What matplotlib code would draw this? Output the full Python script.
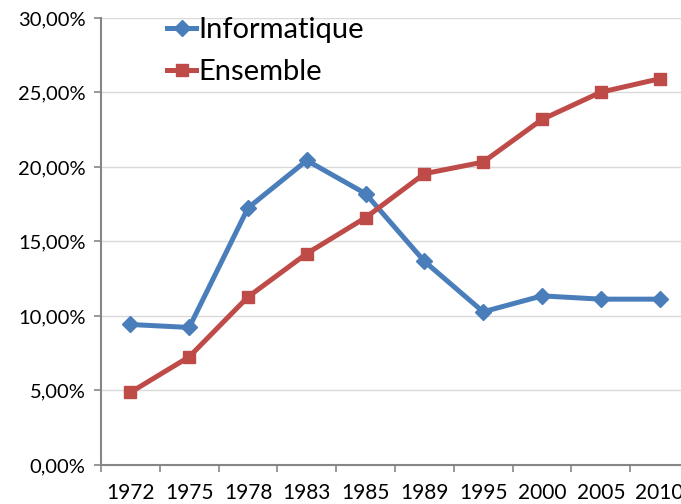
import matplotlib
matplotlib.use("Agg")
import matplotlib.pyplot as plt
from matplotlib.ticker import FuncFormatter, FixedLocator

plt.rcParams['font.family'] = ['Lato', 'DejaVu Sans']

# Data (share in %)
years = ['1972', '1975', '1978', '1983', '1985', '1989', '1995', '2000', '2005', '2010']
informatique = [9.43, 9.23, 17.25, 20.44, 18.21, 13.67, 10.28, 11.35, 11.13, 11.13]
ensemble = [4.87, 7.26, 11.28, 14.19, 16.60, 19.55, 20.33, 23.19, 25.02, 25.92]

blue = '#4a7ebb'
red = '#be4b48'
axis_grey = '#868686'

fig = plt.figure(figsize=(6.81, 5.04), dpi=100)
# the plot area runs past the right edge of the picture, as in the reference
ax = fig.add_axes([0.1483, 0.0774, 0.8634, 0.8869])

x = list(range(len(years)))
ax.plot(x, informatique, color=blue, lw=3.6, marker='D', markersize=8,
        markeredgecolor=blue, label='Informatique', zorder=3)
ax.plot(x, ensemble, color=red, lw=3.6, marker='s', markersize=9,
        markeredgecolor=red, label='Ensemble', zorder=3)

# y axis
ax.set_ylim(0, 30)
ax.set_yticks(range(0, 31, 5))
ax.yaxis.set_major_formatter(FuncFormatter(lambda v, p: f"{v:.2f}%".replace('.', ',')))
ax.grid(axis='y', color='#d9d9d9', lw=1.0)
ax.set_axisbelow(True)

# x axis: labels at the categories, tick marks between them
ax.set_xlim(-0.5, len(years) - 0.5)
ax.set_xticks(x)
ax.set_xticklabels(years)
ax.xaxis.set_minor_locator(FixedLocator([i - 0.5 for i in range(len(years) + 1)]))
ax.tick_params(axis='x', which='major', length=0, pad=13, labelsize=15)
ax.tick_params(axis='x', which='minor', length=5, width=1.2, color=axis_grey, direction='out')
ax.tick_params(axis='y', length=5, width=1.2, color=axis_grey, labelsize=14.5, pad=6)

for side in ['top', 'right']:
    ax.spines[side].set_visible(False)
for side in ['left', 'bottom']:
    ax.spines[side].set_color(axis_grey)
    ax.spines[side].set_linewidth(1.5)

leg = ax.legend(loc='upper left', bbox_to_anchor=(167 / 681, 1 - 17 / 504),
                bbox_transform=fig.transFigure, frameon=False, fontsize=21,
                handlelength=1.0, handletextpad=0.08, labelspacing=0.55,
                borderpad=0, borderaxespad=0)

fig.savefig('out.png', dpi=100)
